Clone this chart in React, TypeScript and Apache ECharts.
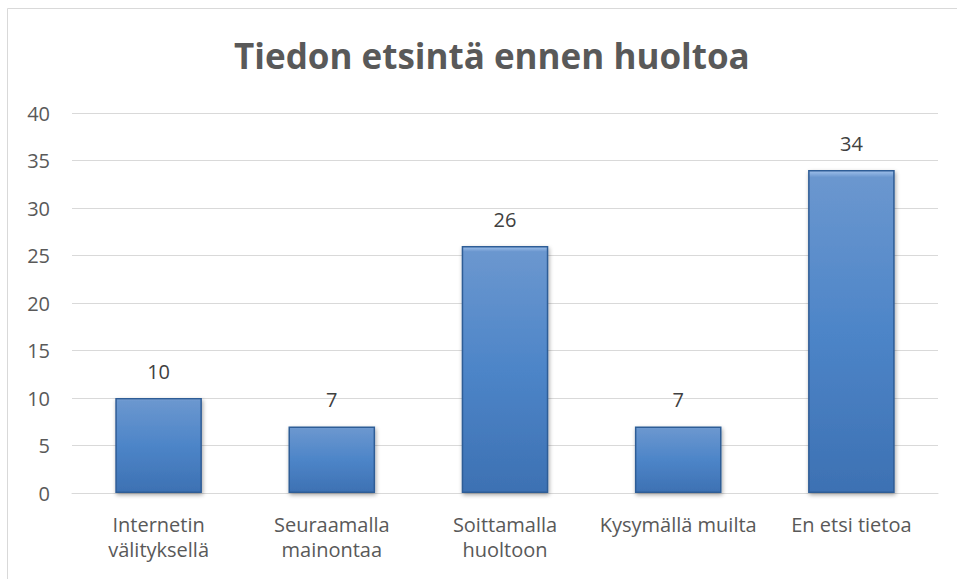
import React, { useEffect, useRef } from "react";
import * as echarts from "echarts";

const categories = ["Internetin\nvälityksellä", "Seuraamalla\nmainontaa", "Soittamalla\nhuoltoon", "Kysymällä muilta", "En etsi tietoa"];
const values = [10, 7, 26, 7, 34];
const titleText = "Tiedon etsintä ennen huoltoa";

export default function App() {
  const ref = useRef<HTMLDivElement>(null);
  useEffect(() => {
    document.body.style.margin = "0";
    const chart = echarts.init(ref.current!, null, { renderer: "svg" });
    const font = "'Open Sans', 'Noto Sans', sans-serif";
    chart.setOption({
      animation: false,
      backgroundColor: "#ffffff",
      title: {
        text: titleText,
        left: 229,
        top: 33,
        textStyle: { fontFamily: font, fontSize: 35, fontWeight: "bold", color: "#595959" },
      },
      graphic: [
        {
          type: "rect",
          shape: { x: 7.5, y: 8.5, width: 1100, height: 1000 },
          style: { fill: "none", stroke: "#d9d9d9", lineWidth: 1 },
          silent: true,
        },
      ],
      grid: { left: 72, right: 19, top: 113, bottom: 86, containLabel: false },
      xAxis: {
        type: "category",
        data: categories,
        axisLine: { lineStyle: { color: "#d9d9d9", width: 1 } },
        axisTick: { show: false },
        axisLabel: {
          color: "#595959",
          fontFamily: font,
          fontSize: 20,
          lineHeight: 25,
          margin: 19,
          interval: 0,
        },
      },
      yAxis: {
        type: "value",
        min: 0,
        max: 40,
        interval: 5,
        axisLine: { show: false },
        axisTick: { show: false },
        splitLine: { lineStyle: { color: "#d9d9d9", width: 1 } },
        axisLabel: { color: "#595959", fontFamily: font, fontSize: 20, margin: 22 },
      },
      series: [
        {
          type: "bar",
          data: values,
          barWidth: "50%",
          itemStyle: {
            color: new echarts.graphic.LinearGradient(0, 0, 0, 1, [
              { offset: 0, color: "#9fc0ea" },
              { offset: 0.02, color: "#6b97cf" },
              { offset: 0.5, color: "#4d85c8" },
              { offset: 1, color: "#3d71b3" },
            ]),
            borderColor: "#2f5d96",
            borderWidth: 1.5,
            shadowColor: "rgba(0,0,0,0.35)",
            shadowBlur: 4,
            shadowOffsetX: 1,
            shadowOffsetY: 2,
          },
          label: {
            show: true,
            position: "top",
            distance: 17,
            color: "#404040",
            fontFamily: font,
            fontSize: 20,
          },
        },
      ],
    });
    return () => chart.dispose();
  }, []);
  return <div ref={ref} style={{ width: 957, height: 579 }} />;
}
